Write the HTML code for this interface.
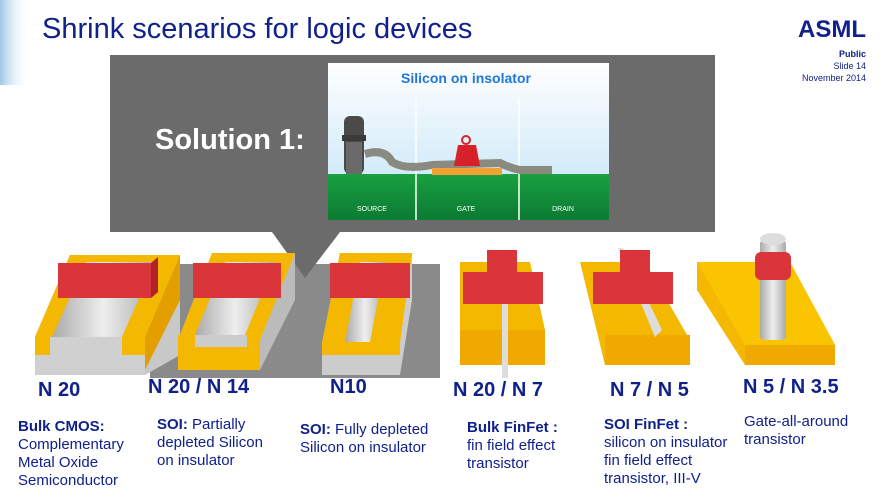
<!DOCTYPE html>
<html><head><meta charset="utf-8"><style>
body{margin:0;width:880px;height:495px;overflow:hidden;background:#fff;font-family:"Liberation Sans",sans-serif}
svg{display:block}
</style></head><body>
<svg width="880" height="495" viewBox="0 0 880 495" xmlns="http://www.w3.org/2000/svg" font-family="Liberation Sans, sans-serif">
<defs>
<linearGradient id="bg" x1="0" x2="1"><stop offset="0" stop-color="#9fc6e8"/><stop offset="1" stop-color="#fff" stop-opacity="0"/></linearGradient>
<linearGradient id="sky" x1="0" y1="0" x2="0" y2="1"><stop offset="0" stop-color="#fff"/><stop offset="1" stop-color="#bfe2f5"/></linearGradient>
<linearGradient id="grass" x1="0" y1="0" x2="0" y2="1"><stop offset="0" stop-color="#1aa040"/><stop offset="1" stop-color="#0b7a33"/></linearGradient>
<linearGradient id="si" x1="0" y1="0" x2="1" y2="0"><stop offset="0" stop-color="#aaa"/><stop offset=".5" stop-color="#eee"/><stop offset="1" stop-color="#aaa"/></linearGradient>
</defs>
<rect x="0" y="0" width="30" height="85" fill="url(#bg)"/>
<text x="42" y="38" font-size="29" fill="#10218b">Shrink scenarios for logic devices</text>
<text x="866" y="37" font-size="24" font-weight="bold" fill="#10218b" text-anchor="end">ASML</text>
<text x="866" y="57" font-size="9" font-weight="bold" fill="#10218b" text-anchor="end">Public</text>
<text x="866" y="69" font-size="9" fill="#10218b" text-anchor="end">Slide 14</text>
<text x="866" y="81" font-size="9" fill="#10218b" text-anchor="end">November 2014</text>

<rect x="150" y="264" width="290" height="114" fill="#8a8a8a"/>
<rect x="110" y="55" width="605" height="177" fill="#6b6b6b"/>
<polygon points="272,232 340,232 305,278" fill="#6b6b6b"/>
<text x="155" y="149" font-size="29" font-weight="bold" fill="#fff">Solution 1:</text>
<rect x="328" y="63" width="281" height="157" fill="url(#sky)"/>
<rect x="328" y="174" width="281" height="46" fill="url(#grass)"/>
<text x="466" y="83" font-size="14" font-weight="bold" fill="#1e78d8" text-anchor="middle">Silicon on insolator</text>
<line x1="416" y1="98" x2="416" y2="220" stroke="#fff" stroke-width="1.5"/>
<line x1="519" y1="98" x2="519" y2="220" stroke="#fff" stroke-width="1.5"/>
<text x="372" y="211" font-size="7" fill="#fff" text-anchor="middle">SOURCE</text>
<text x="466" y="211" font-size="7" fill="#fff" text-anchor="middle">GATE</text>
<text x="563" y="211" font-size="7" fill="#fff" text-anchor="middle">DRAIN</text>
<path d="M365 154 Q385 148 392 162 Q405 170 432 165 L500 163 Q510 168 520 170 L552 170" stroke="#8a8a80" stroke-width="8" fill="none"/>
<rect x="344" y="116" width="20" height="58" rx="6" fill="#4a4a4a"/>
<rect x="342" y="135" width="24" height="6" fill="#3a3a3a"/>
<rect x="346" y="142" width="16" height="32" fill="#6a6a6a"/>
<rect x="432" y="168" width="70" height="7" fill="#f2a233"/>
<polygon points="458,145 476,145 480,166 454,166" fill="#d8202a"/>
<circle cx="466" cy="140" r="4" fill="none" stroke="#d8202a" stroke-width="2"/>

<g>
<!-- 1 -->
<polygon points="35,337 70,255 180,255 180,355 145,375 35,375" fill="#c8c8c8"/>
<polygon points="35,337 70,255 180,255 145,337" fill="#f5b800"/>
<polygon points="145,337 180,255 180,300 145,370" fill="#e39e00"/>
<polygon points="52,337 86,262 155,262 122,337" fill="url(#si)"/>
<rect x="35" y="337" width="110" height="38" fill="#d0d0d0"/>
<rect x="35" y="337" width="15" height="18" fill="#f5b800"/><rect x="122" y="337" width="23" height="18" fill="#f5b800"/>
<rect x="58" y="263" width="93" height="35" fill="#d9353b"/>
<polygon points="151,263 158,257 158,292 151,298" fill="#b32027"/>
<!-- 2 -->
<polygon points="178,340 212,253 295,253 295,300 260,370 178,370" fill="#bbb"/>
<polygon points="178,340 212,253 295,253 260,340" fill="#f5b800"/>
<polygon points="195,335 225,262 275,262 245,335" fill="url(#si)"/>
<rect x="178" y="335" width="82" height="35" fill="#f5b800"/>
<rect x="195" y="335" width="52" height="12" fill="#ccc"/>
<rect x="193" y="263" width="88" height="35" fill="#d9353b"/>
<!-- 3 -->
<polygon points="322,343 340,253 412,253 412,300 400,375 322,375" fill="#ccc"/>
<polygon points="322,343 340,253 412,253 400,343" fill="#f5b800"/>
<polygon points="345,342 360,262 385,262 370,342" fill="url(#si)"/>
<rect x="322" y="343" width="78" height="12" fill="#f5b800"/>
<rect x="330" y="263" width="80" height="35" fill="#d9353b"/>
<!-- 4 -->
<polygon points="460,262 530,262 545,330 545,365 460,365" fill="#f5b800"/>
<rect x="460" y="330" width="85" height="35" fill="#efa900"/>
<rect x="502" y="250" width="6" height="128" fill="#ddd"/>
<rect x="487" y="250" width="30" height="25" fill="#d9353b"/>
<rect x="463" y="272" width="80" height="32" fill="#d9353b"/>
<!-- 5 -->
<polygon points="580,262 645,262 690,340 690,365 605,365" fill="#f5b800"/>
<rect x="605" y="335" width="85" height="30" fill="#efa900"/>
<polygon points="618,248 623,248 662,330 655,337" fill="#ddd"/>
<rect x="620" y="250" width="30" height="25" fill="#d9353b"/>
<rect x="593" y="272" width="80" height="32" fill="#d9353b"/>
<!-- 6 -->
<polygon points="697,262 790,262 835,345 835,365 745,365 697,290" fill="#f5b800"/>
<polygon points="697,262 790,262 835,345 745,345" fill="#fbc400"/>
<rect x="745" y="345" width="90" height="20" fill="#efa900"/>
<rect x="760" y="240" width="26" height="100" rx="4" fill="url(#si)"/>
<ellipse cx="773" cy="239" rx="13" ry="6" fill="#ddd"/>
<rect x="755" y="252" width="36" height="28" rx="6" fill="#d9353b"/>
</g>

<g font-size="20" font-weight="bold" fill="#10218b">
<text x="38" y="396">N 20</text>
<text x="148" y="393">N 20 / N 14</text>
<text x="330" y="393">N10</text>
<text x="453" y="396">N 20 / N 7</text>
<text x="610" y="396">N 7 / N 5</text>
<text x="743" y="393">N 5 / N 3.5</text>
</g>
<g font-size="15" fill="#10218b">
<text x="18" y="431"><tspan font-weight="bold">Bulk CMOS:</tspan></text>
<text x="18" y="449">Complementary</text><text x="18" y="467">Metal Oxide</text><text x="18" y="485">Semiconductor</text>
<text x="157" y="429"><tspan font-weight="bold">SOI:</tspan> Partially</text>
<text x="157" y="447">depleted Silicon</text><text x="157" y="465">on insulator</text>
<text x="300" y="434"><tspan font-weight="bold">SOI:</tspan> Fully depleted</text>
<text x="300" y="452">Silicon on insulator</text>
<text x="467" y="432" font-weight="bold">Bulk FinFet :</text>
<text x="467" y="450">fin field effect</text><text x="467" y="468">transistor</text>
<text x="604" y="429" font-weight="bold">SOI FinFet :</text>
<text x="604" y="447">silicon on insulator</text><text x="604" y="465">fin field effect</text><text x="604" y="483">transistor, III-V</text>
<text x="744" y="426">Gate-all-around</text><text x="744" y="444">transistor</text>
</g>
</svg>
</body></html>
